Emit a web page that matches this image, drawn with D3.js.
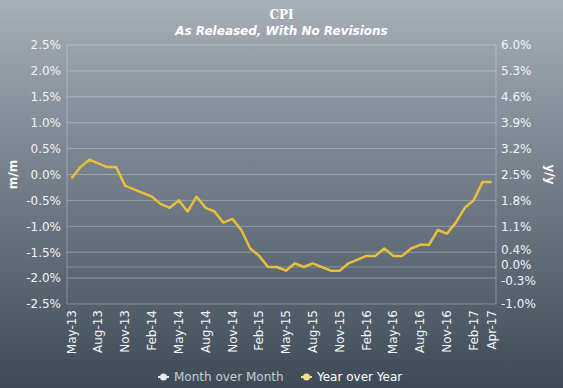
<!DOCTYPE html>
<html>
<head>
<meta charset="utf-8">
<script src="https://cdn.jsdelivr.net/npm/d3@7/dist/d3.min.js"></script>
<style>
  body { margin: 0; padding: 0; }
  svg { display: block; font-family: "DejaVu Sans", Verdana, sans-serif; }
</style>
</head>
<body>
<div id="chart"></div>
<script>
// release months (x categories)
var months = ["May-13","Jun-13","Jul-13","Aug-13","Sep-13","Oct-13","Nov-13","Dec-13",
  "Jan-14","Feb-14","Mar-14","Apr-14","May-14","Jun-14","Jul-14","Aug-14","Sep-14","Oct-14","Nov-14","Dec-14",
  "Jan-15","Feb-15","Mar-15","Apr-15","May-15","Jun-15","Jul-15","Aug-15","Sep-15","Oct-15","Nov-15","Dec-15",
  "Jan-16","Feb-16","Mar-16","Apr-16","May-16","Jun-16","Jul-16","Aug-16","Sep-16","Oct-16","Nov-16","Dec-16",
  "Jan-17","Feb-17","Mar-17","Apr-17"];

// year over year, % (as released)
var yoy = [2.4,2.7,2.9,2.8,2.7,2.7,2.2,2.1,
  2.0,1.9,1.7,1.6,1.8,1.5,1.9,1.6,1.5,1.2,1.3,1.0,
  0.5,0.3,0.0,0.0,-0.1,0.1,0.0,0.1,0.0,-0.1,-0.1,0.1,
  0.2,0.3,0.3,0.5,0.3,0.3,0.5,0.6,0.6,1.0,0.9,1.2,
  1.6,1.8,2.3,2.3];

var xTickLabels = ["May-13","Aug-13","Nov-13","Feb-14","May-14","Aug-14","Nov-14","Feb-15",
  "May-15","Aug-15","Nov-15","Feb-16","May-16","Aug-16","Nov-16","Feb-17","Apr-17"];
var leftTicks = [-2.5,-2.0,-1.5,-1.0,-0.5,0.0,0.5,1.0,1.5,2.0,2.5];
var rightTicks = [-1.0,-0.3,0.0,0.4,1.1,1.8,2.5,3.2,3.9,4.6,5.3,6.0];
var seriesNames = ["Month over Month", "Year over Year"];

var width = 563, height = 388;
var margin = {top: 45, right: 67, bottom: 84, left: 67};
var lineColor = "#e8bf3a";
var gridColor = "rgba(225,230,235,0.35)";

var svg = d3.select("#chart").append("svg")
  .attr("width", width)
  .attr("height", height);

// background gradient
var grad = svg.append("defs").append("linearGradient")
  .attr("id", "bg").attr("x1", 0).attr("y1", 0).attr("x2", 0).attr("y2", 1);
grad.append("stop").attr("offset", "0%").attr("stop-color", "#a7afb7");
grad.append("stop").attr("offset", "45%").attr("stop-color", "#75808b");
grad.append("stop").attr("offset", "100%").attr("stop-color", "#3e4b57");
svg.append("rect").attr("width", width).attr("height", height).attr("fill", "url(#bg)");

var x = d3.scaleBand()
  .domain(months)
  .range([margin.left, width - margin.right]);

var yL = d3.scaleLinear().domain([-2.5, 2.5]).range([height - margin.bottom, margin.top]);
var yR = d3.scaleLinear().domain([-1.0, 6.0]).range([height - margin.bottom, margin.top]);

var fmt = function(d) { return d.toFixed(1) + "%"; };

// titles
svg.append("text")
  .attr("x", width / 2).attr("y", 19)
  .attr("text-anchor", "middle")
  .attr("fill", "#ffffff").attr("font-weight", "bold").attr("font-size", 12)
  .style("font-family", "'DejaVu Serif', serif")
  .text("CPI");
svg.append("text")
  .attr("x", width / 2).attr("y", 35)
  .attr("text-anchor", "middle")
  .attr("fill", "#ffffff").attr("font-weight", "bold").attr("font-style", "italic").attr("font-size", 12)
  .text("As Released, With No Revisions");

// gridlines
var grid = svg.append("g");
grid.selectAll(".gl")
  .data(leftTicks)
  .enter().append("line")
  .attr("x1", margin.left).attr("x2", width - margin.right)
  .attr("y1", function(d) { return yL(d); })
  .attr("y2", function(d) { return yL(d); })
  .attr("stroke", gridColor).attr("stroke-width", 1);
grid.append("line")
  .attr("x1", margin.left).attr("x2", width - margin.right)
  .attr("y1", yR(0)).attr("y2", yR(0))
  .attr("stroke", gridColor).attr("stroke-width", 1);
grid.append("line")
  .attr("x1", margin.left).attr("x2", margin.left)
  .attr("y1", margin.top).attr("y2", height - margin.bottom)
  .attr("stroke", gridColor);
grid.append("line")
  .attr("x1", width - margin.right).attr("x2", width - margin.right)
  .attr("y1", margin.top).attr("y2", height - margin.bottom)
  .attr("stroke", gridColor);

// left axis
var axL = svg.append("g")
  .attr("transform", "translate(" + margin.left + ",0)")
  .call(d3.axisLeft(yL).tickValues(leftTicks).tickFormat(fmt).tickSize(0).tickPadding(6));
axL.select(".domain").remove();
axL.selectAll("text").attr("fill", "#f2f4f6").attr("font-size", 12)
  .style("font-family", "'DejaVu Sans', Verdana, sans-serif");

// right axis
var axR = svg.append("g")
  .attr("transform", "translate(" + (width - margin.right) + ",0)")
  .call(d3.axisRight(yR).tickValues(rightTicks).tickFormat(fmt).tickSize(0).tickPadding(5));
axR.select(".domain").remove();
axR.selectAll("text").attr("fill", "#f2f4f6").attr("font-size", 12)
  .style("font-family", "'DejaVu Sans', Verdana, sans-serif");
// spread the crowded labels near zero a little
var nudge = {"0.4": -2.5, "0": -2, "-0.3": 2.5};
axR.selectAll(".tick text")
  .attr("transform", function(d) {
    var k = String(d);
    return nudge[k] ? "translate(0," + nudge[k] + ")" : null;
  });

// x axis
var axX = svg.append("g")
  .attr("transform", "translate(0," + (height - margin.bottom) + ")")
  .call(d3.axisBottom(x).tickValues(xTickLabels).tickSize(0).tickPadding(0));
axX.select(".domain").remove();
axX.selectAll("text")
  .attr("fill", "#f2f4f6").attr("font-size", 12)
  .style("font-family", "'DejaVu Sans', Verdana, sans-serif")
  .attr("text-anchor", "end")
  .attr("dy", "0.35em")
  .attr("transform", "translate(0,6) rotate(-90)")
  .attr("x", 0).attr("y", 0);

// axis titles
svg.append("text")
  .attr("transform", "translate(17," + yL(0) + ") rotate(-90)")
  .attr("text-anchor", "middle")
  .attr("fill", "#ffffff").attr("font-weight", "bold").attr("font-size", 12)
  .text("m/m");
svg.append("text")
  .attr("transform", "translate(546," + yL(0) + ") rotate(90)")
  .attr("text-anchor", "middle")
  .attr("fill", "#ffffff").attr("font-weight", "bold").attr("font-size", 12)
  .text("y/y");

// y/y line
var line = d3.line()
  .x(function(d, i) { return x(months[i]) + x.bandwidth() / 2; })
  .y(function(d) { return yR(d); });

svg.append("path")
  .datum(yoy)
  .attr("d", line)
  .attr("fill", "none")
  .attr("stroke", lineColor)
  .attr("stroke-width", 2.5)
  .attr("stroke-linejoin", "round");

// legend
var legend = svg.append("g").attr("transform", "translate(0,377)");
var legendItems = [
  {name: seriesNames[0], x: 158, color: "#e6e8ea", text: "#c9cdd1"},
  {name: seriesNames[1], x: 301, color: "#f3e08a", text: "#ffffff"}
];
var li = legend.selectAll(".li")
  .data(legendItems)
  .enter().append("g")
  .attr("transform", function(d) { return "translate(" + d.x + ",0)"; });
li.append("line")
  .attr("x1", 0).attr("x2", 11).attr("y1", 0).attr("y2", 0)
  .attr("stroke", function(d) { return d.color; }).attr("stroke-width", 2);
li.append("circle")
  .attr("cx", 5.5).attr("cy", 0).attr("r", 3.5)
  .attr("fill", function(d) { return d.color; });
li.append("text")
  .attr("x", 16).attr("y", 0).attr("dy", "0.35em")
  .attr("fill", function(d) { return d.text; })
  .attr("font-size", 12)
  .text(function(d) { return d.name; });
</script>
</body>
</html>
